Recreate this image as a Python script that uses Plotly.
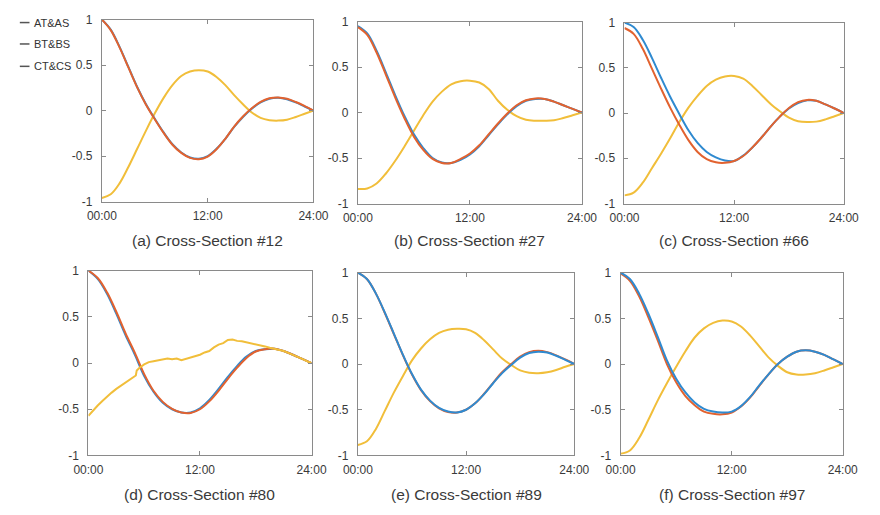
import plotly.graph_objects as go

# ---------------- data ----------------
HOURS = list(range(25))
X_TICK_VALS = [0, 12, 24]
X_TICK_TEXT = ["00:00", "12:00", "24:00"]
Y_TICK_VALS = [-1, -0.5, 0, 0.5, 1]
Y_TICK_TEXT = ["-1", "-0.5", "0", "0.5", "1"]
SERIES_NAMES = ["AT&AS", "BT&BS", "CT&CS"]
PANEL_TITLES = ["(a) Cross-Section #12", "(b) Cross-Section #27", "(c) Cross-Section #66",
                "(d) Cross-Section #80", "(e) Cross-Section #89", "(f) Cross-Section #97"]

# (a) Cross-Section #12
a_AT = [1.0, 0.89, 0.70, 0.48, 0.26, 0.07, -0.09, -0.24, -0.37, -0.46, -0.515, -0.53, -0.50,
        -0.42, -0.31, -0.18, -0.07, 0.02, 0.09, 0.13, 0.14, 0.125, 0.09, 0.045, 0.0]
a_BT = [1.0, 0.885, 0.695, 0.475, 0.255, 0.065, -0.095, -0.245, -0.375, -0.465, -0.52, -0.535, -0.505,
        -0.425, -0.31, -0.175, -0.065, 0.025, 0.095, 0.135, 0.145, 0.13, 0.095, 0.05, 0.0]
a_CT = [-0.96, -0.92, -0.80, -0.62, -0.42, -0.22, -0.03, 0.14, 0.28, 0.38, 0.43, 0.445, 0.43,
        0.37, 0.28, 0.17, 0.07, -0.02, -0.08, -0.105, -0.11, -0.10, -0.07, -0.035, 0.0]

# (b) Cross-Section #27
b_AT = [0.95, 0.87, 0.68, 0.44, 0.19, -0.04, -0.24, -0.39, -0.50, -0.55, -0.555, -0.52, -0.46,
        -0.37, -0.25, -0.13, -0.02, 0.07, 0.13, 0.15, 0.15, 0.12, 0.08, 0.04, 0.0]
b_BT = [0.94, 0.855, 0.66, 0.415, 0.165, -0.065, -0.265, -0.41, -0.51, -0.555, -0.555, -0.51, -0.45,
        -0.36, -0.24, -0.12, -0.01, 0.08, 0.135, 0.155, 0.15, 0.12, 0.08, 0.04, 0.0]
b_CT = [-0.84, -0.835, -0.78, -0.67, -0.53, -0.37, -0.20, -0.03, 0.12, 0.23, 0.31, 0.345, 0.35,
        0.33, 0.26, 0.13, 0.03, -0.04, -0.08, -0.09, -0.09, -0.085, -0.06, -0.03, 0.0]

# (c) Cross-Section #66
c_AT = [1.0, 0.95, 0.81, 0.61, 0.39, 0.18, -0.01, -0.19, -0.33, -0.43, -0.49, -0.525, -0.53,
        -0.47, -0.38, -0.27, -0.15, -0.04, 0.05, 0.11, 0.14, 0.135, 0.095, 0.05, 0.0]
c_BT = [0.94, 0.875, 0.71, 0.49, 0.27, 0.06, -0.13, -0.30, -0.43, -0.51, -0.545, -0.55, -0.53,
        -0.475, -0.38, -0.27, -0.15, -0.04, 0.055, 0.12, 0.145, 0.135, 0.095, 0.05, 0.0]
c_CT = [-0.91, -0.88, -0.77, -0.61, -0.45, -0.28, -0.10, 0.06, 0.19, 0.30, 0.37, 0.405, 0.41,
        0.38, 0.30, 0.20, 0.10, 0.02, -0.05, -0.09, -0.10, -0.095, -0.07, -0.035, 0.0]

# (d) Cross-Section #80
d_AT = [1.0, 0.91, 0.75, 0.535, 0.30, 0.09, -0.14, -0.31, -0.43, -0.50, -0.535, -0.535, -0.49,
        -0.40, -0.28, -0.15, -0.03, 0.07, 0.13, 0.15, 0.155, 0.13, 0.09, 0.045, 0.0]
d_BT = [1.0, 0.92, 0.765, 0.555, 0.32, 0.11, -0.12, -0.30, -0.42, -0.495, -0.535, -0.54, -0.50,
        -0.415, -0.30, -0.17, -0.05, 0.055, 0.125, 0.15, 0.155, 0.13, 0.09, 0.045, 0.0]
d_CT_hours = [0, 0.5, 1, 1.5, 2, 2.5, 3, 3.5, 4, 4.5, 5, 5.1, 5.2, 5.5, 6, 6.5, 7, 7.5, 8, 8.5,
              9, 9.5, 10, 10.5, 11, 11.5, 12, 12.5, 13, 13.5, 14, 14.5, 15, 15.5, 16, 16.5,
              17, 17.5, 18, 18.5, 19, 19.5, 20, 20.5, 21, 21.5, 22, 22.5, 23, 23.5, 24]
d_CT = [-0.57, -0.51, -0.46, -0.41, -0.36, -0.32, -0.28, -0.245, -0.215, -0.18, -0.15, -0.135,
        -0.08, -0.05, -0.015, 0.01, 0.02, 0.03, 0.04, 0.048, 0.04, 0.048, 0.03, 0.045, 0.055,
        0.07, 0.09, 0.115, 0.13, 0.17, 0.2, 0.215, 0.25, 0.255, 0.24, 0.235, 0.225, 0.218,
        0.205, 0.19, 0.18, 0.165, 0.155, 0.145, 0.13, 0.11, 0.09, 0.07, 0.045, 0.02, 0.0]

# (e) Cross-Section #89
e_AT = [1.0, 0.93, 0.77, 0.56, 0.33, 0.10, -0.11, -0.28, -0.40, -0.48, -0.52, -0.53, -0.50,
        -0.43, -0.33, -0.21, -0.10, -0.01, 0.07, 0.12, 0.135, 0.125, 0.09, 0.045, 0.0]
e_BT = [1.0, 0.93, 0.77, 0.555, 0.325, 0.095, -0.115, -0.285, -0.405, -0.485, -0.525, -0.53, -0.50,
        -0.43, -0.325, -0.205, -0.09, 0.0, 0.08, 0.13, 0.145, 0.13, 0.095, 0.05, 0.0]
e_CT = [-0.885, -0.845, -0.71, -0.51, -0.31, -0.13, 0.04, 0.17, 0.27, 0.34, 0.375, 0.385, 0.38,
        0.34, 0.26, 0.16, 0.06, -0.01, -0.07, -0.095, -0.10, -0.09, -0.065, -0.03, 0.0]

# (f) Cross-Section #97
f_AT = [1.0, 0.93, 0.77, 0.55, 0.30, 0.04, -0.16, -0.31, -0.42, -0.49, -0.52, -0.53, -0.52,
        -0.46, -0.36, -0.23, -0.11, 0.0, 0.08, 0.135, 0.15, 0.135, 0.10, 0.05, 0.0]
f_BT = [0.99, 0.91, 0.74, 0.51, 0.26, 0.0, -0.20, -0.35, -0.45, -0.52, -0.545, -0.55, -0.53,
        -0.465, -0.365, -0.235, -0.11, 0.0, 0.08, 0.135, 0.15, 0.135, 0.10, 0.05, 0.0]
f_CT = [-0.98, -0.945, -0.81, -0.61, -0.40, -0.21, -0.03, 0.14, 0.29, 0.39, 0.45, 0.475, 0.465,
        0.41, 0.31, 0.19, 0.07, -0.02, -0.09, -0.115, -0.115, -0.10, -0.07, -0.035, 0.0]

# ---------------- styling ----------------
COLORS = {"AT&AS": "#2F8AD0", "BT&BS": "#E2622F", "CT&CS": "#F1BE3A"}
FONT = "Liberation Sans, Arial, sans-serif"
TEXT_COLOR = "#3a3a3a"
AXIS_COLOR = "#8a8a8a"

# panel layout in pixels (left, right, top, bottom) on the 880x515 canvas
W, H = 880, 515
PANEL_BOXES = [(90, 309, 13, 200), (355, 587, 15, 202), (631, 858, 16, 202),
               (76, 307, 271, 461), (355, 579, 273, 461), (627, 857, 273, 461)]

panels = [
    (HOURS, a_AT, HOURS, a_BT, HOURS, a_CT, "orange_top"),
    (HOURS, b_AT, HOURS, b_BT, HOURS, b_CT, "orange_top"),
    (HOURS, c_AT, HOURS, c_BT, HOURS, c_CT, "orange_top"),
    (HOURS, d_AT, HOURS, d_BT, d_CT_hours, d_CT, "orange_top"),
    (HOURS, e_AT, HOURS, e_BT, HOURS, e_CT, "blue_top"),
    (HOURS, f_AT, HOURS, f_BT, HOURS, f_CT, "blue_top"),
]

fig = go.Figure()
layout = dict(
    width=W, height=H, margin=dict(l=0, r=0, t=0, b=0),
    paper_bgcolor="white", plot_bgcolor="white", showlegend=False,
    font=dict(family=FONT, color=TEXT_COLOR, size=12),
)
annotations = []
shapes = []

for i, (xa, ya, xb, yb, xc, yc, order) in enumerate(panels):
    n = "" if i == 0 else str(i + 1)
    xref, yref = "x" + n, "y" + n
    l, r, t, b = PANEL_BOXES[i]
    series = [("AT&AS", xa, ya), ("BT&BS", xb, yb)]
    if order == "blue_top":
        series = series[::-1]
    series = [("CT&CS", xc, yc)] + series if i != 3 else series + [("CT&CS", xc, yc)]
    for name, xs, ys in series:
        shape = "linear" if (i == 3 and name == "CT&CS") else "spline"
        fig.add_trace(go.Scatter(
            x=xs, y=ys, mode="lines", name=name, xaxis=xref, yaxis=yref,
            line=dict(color=COLORS[name], width=2, shape=shape, smoothing=1.0),
            hoverinfo="skip"))
    axis_common = dict(
        showline=True, linecolor=AXIS_COLOR, linewidth=1, mirror="ticks",
        ticks="inside", ticklen=4, tickcolor=AXIS_COLOR, tickwidth=1,
        showgrid=False, zeroline=False,
        tickfont=dict(family=FONT, size=12, color=TEXT_COLOR),
    )
    layout["xaxis" + n] = dict(
        axis_common, domain=[l / W, r / W], range=[0, 24], anchor=yref,
        tickvals=X_TICK_VALS, ticktext=X_TICK_TEXT, ticklabelstandoff=3)
    layout["yaxis" + n] = dict(
        axis_common, domain=[1 - b / H, 1 - t / H], range=[-1, 1], anchor=xref,
        tickvals=Y_TICK_VALS, ticktext=Y_TICK_TEXT, ticklabelstandoff=6)
    # panel caption
    cap_y = 240 if i < 3 else 501
    annotations.append(dict(
        text=PANEL_TITLES[i], x=(l + r) / 2 / W, y=1 - cap_y / H, xref="paper", yref="paper",
        xanchor="center", yanchor="middle", showarrow=False,
        font=dict(family=FONT, size=15.5, color=TEXT_COLOR)))

# legend (top-left)
LEGEND_Y = [16, 38, 61]
for name, yy in zip(SERIES_NAMES, LEGEND_Y):
    shapes.append(dict(type="line", xref="paper", yref="paper",
                       x0=5 / W, x1=15 / W, y0=1 - yy / H, y1=1 - yy / H,
                       line=dict(color="#555555", width=1.5)))
    annotations.append(dict(
        text=name, x=18 / W, y=1 - yy / H, xref="paper", yref="paper",
        xanchor="left", yanchor="middle", showarrow=False,
        font=dict(family=FONT, size=11, color="#333333")))

layout["annotations"] = annotations
layout["shapes"] = shapes
fig.update_layout(**layout)
fig.write_html("out.html")
